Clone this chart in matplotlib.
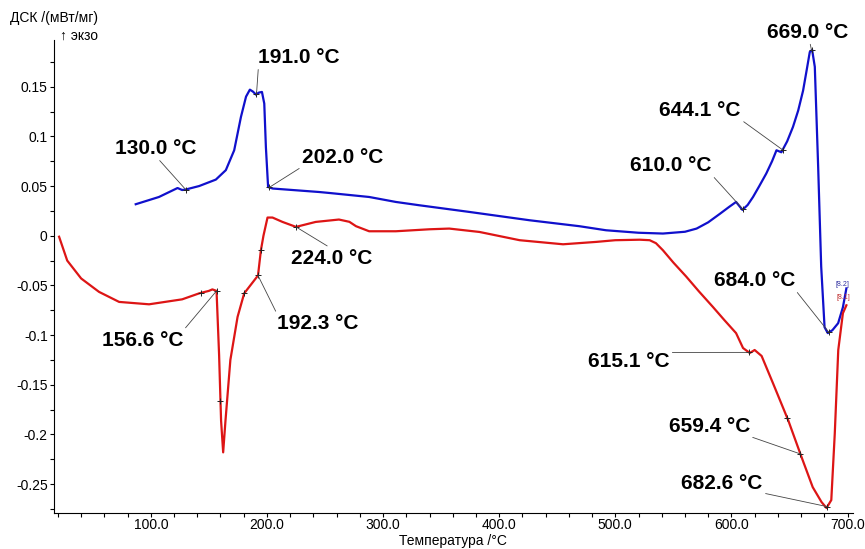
import numpy as np
import matplotlib
matplotlib.use("Agg")
import matplotlib.pyplot as plt
from matplotlib.ticker import MultipleLocator, FuncFormatter

plt.rcParams['font.family'] = ['Liberation Sans', 'DejaVu Sans']
plt.rcParams['axes.unicode_minus'] = False

BLUE = '#1010CC'
RED = '#DD1515'

# кривая ДСК (синяя)
blue_t = [87, 107, 123, 127, 130, 141.6, 156, 164.6, 171.8, 177.6, 182, 185.3, 188, 190.5, 193,
          195.7, 197.7, 199.1, 201, 205, 245, 254, 288, 311, 331, 374, 426, 469, 492, 520, 541,
          560, 570, 580, 590, 598, 604, 609.5, 614, 618.6, 624, 630, 635, 638.8, 643, 648, 653,
          657.5, 661.7, 665, 667.5, 669.5, 671.8, 674.7, 677.3, 680.2, 683, 687, 691.9, 696, 699]
blue_v = [0.0317, 0.039, 0.048, 0.046, 0.0465, 0.050, 0.0565, 0.066, 0.086, 0.1195, 0.14, 0.147,
          0.145, 0.142, 0.144, 0.1447, 0.133, 0.089, 0.049, 0.0475, 0.044, 0.043, 0.039, 0.034,
          0.0307, 0.024, 0.0156, 0.0096, 0.0055, 0.003, 0.0022, 0.004, 0.0072, 0.0135, 0.022,
          0.029, 0.034, 0.026, 0.031, 0.039, 0.05, 0.0626, 0.075, 0.086, 0.084, 0.095, 0.1095,
          0.126, 0.146, 0.168, 0.185, 0.187, 0.17, 0.069, -0.031, -0.092, -0.098, -0.095, -0.088,
          -0.072, -0.053]

# кривая ДСК (красная)
red_t = [21, 28, 40, 55.4, 72.7, 98.5, 127, 141.6, 150, 153, 156.6, 158.8, 160.5, 162.3, 164.3,
         168.5, 174.7, 180.4, 189, 192.3, 194.8, 197, 200.5, 204.8, 213.4, 225, 242, 262, 271,
         276.7, 288, 311, 340, 357, 383, 417.6, 455, 483.6, 500, 521, 529.6, 535, 541, 550, 561,
         572, 584, 594, 604, 610, 615.8, 620, 626, 636, 649, 660.3, 670, 677.6, 681.9, 686, 689,
         692, 696, 699]
red_v = [-0.001, -0.025, -0.043, -0.0565, -0.0666, -0.069, -0.064, -0.058, -0.0555, -0.054,
         -0.0555, -0.12, -0.186, -0.218, -0.186, -0.125, -0.0817, -0.058, -0.045, -0.040, -0.0146,
         0.0, 0.0183, 0.0183, 0.0139, 0.0089, 0.0139, 0.0163, 0.014, 0.0096, 0.0045, 0.0045,
         0.0065, 0.0072, 0.0038, -0.0045, -0.0086, -0.0062, -0.0045, -0.004, -0.0045, -0.0075,
         -0.0146, -0.027, -0.041, -0.056, -0.0716, -0.085, -0.098, -0.113, -0.118, -0.115, -0.121,
         -0.149, -0.186, -0.2225, -0.253, -0.268, -0.274, -0.266, -0.199, -0.115, -0.078, -0.07]

# отмеченные точки (температуры)
blue_marks = [130.0, 191.0, 202.0, 610.0, 644.1, 669.0, 684.0]
red_marks = [143.0, 156.6, 160.0, 180.4, 192.3, 194.8, 225.0, 615.1, 648.0, 659.4, 682.6]

# подписи: текст, температура точки, позиция текста, точка начала линии
blue_labels = [("130.0 °C", 130.0, (104.1, 0.088), (0.52, 0)),
               ("191.0 °C", 191.0, (227.8, 0.1796), (0, 0)),
               ("202.0 °C", 202.0, (265.2, 0.079), (0, 0)),
               ("610.0 °C", 610.0, (547.9, 0.0709), (1, 0)),
               ("644.1 °C", 644.1, (573.1, 0.1263), (1, 0)),
               ("669.0 °C", 669.0, (665.3, 0.205), (0.53, 0)),
               ("684.0 °C", 684.0, (619.8, -0.0448), (1, 0))]
red_labels = [("224.0 °C", 225.0, (255.8, -0.0226), (0.5, 1)),
              ("156.6 °C", 156.6, (92.8, -0.105), (1, 1)),
              ("192.3 °C", 192.3, (243.8, -0.0883), (0, 1)),
              ("615.1 °C", 615.1, (511.6, -0.127), (1, 1)),
              ("659.4 °C", 659.4, (580.9, -0.1924), (1, 0)),
              ("682.6 °C", 682.6, (592.0, -0.2493), (1, 0))]

fig = plt.figure(figsize=(8.65, 5.49), dpi=100)
ax = fig.add_axes([0.0624, 0.0656, 0.9236, 0.8616])

ax.plot(blue_t, blue_v, color=BLUE, lw=1.6)
ax.plot(red_t, red_v, color=RED, lw=1.6)

bm = np.interp(blue_marks, blue_t, blue_v)
rm = np.interp(red_marks, red_t, red_v)
ax.plot(blue_marks, bm, '+', color='#222222', ms=5, mew=0.7)
ax.plot(red_marks, rm, '+', color='#222222', ms=5, mew=0.7)


def put_labels(labels, ts, vs):
    for text, t, pos, rel in labels:
        y = np.interp(t, ts, vs)
        ax.annotate(text, xy=(t, y), xytext=pos, ha='center', va='center',
                    fontsize=15, fontweight='bold', annotation_clip=False,
                    arrowprops=dict(arrowstyle='-', color='#444444', lw=0.6,
                                    relpos=rel, shrinkA=0, shrinkB=0))


put_labels(blue_labels, blue_t, blue_v)
put_labels(red_labels, red_t, red_v)

ax.text(696, -0.049, "[8.2]", color='#3030A0', fontsize=5, ha='center', va='center')
ax.text(696, -0.062, "[8.1]", color='#C03030', fontsize=5, ha='center', va='center')

ax.set_xlim(16.6, 704.6)
ax.set_ylim(-0.279, 0.197)

ax.spines['top'].set_visible(False)
ax.spines['right'].set_visible(False)
ax.xaxis.set_major_locator(MultipleLocator(100))
ax.xaxis.set_minor_locator(MultipleLocator(20))
ax.yaxis.set_major_locator(MultipleLocator(0.05))
ax.yaxis.set_minor_locator(MultipleLocator(0.025))
ax.xaxis.set_major_formatter(FuncFormatter(lambda v, p: f"{v:.1f}"))
ax.yaxis.set_major_formatter(FuncFormatter(lambda v, p: f"{round(v, 3):g}" if abs(v) > 1e-9 else "0"))
ax.tick_params(axis='both', which='major', labelsize=10, length=3, width=0.8, direction='out')
ax.tick_params(axis='both', which='minor', length=3, width=0.8, direction='out')
ax.tick_params(axis='x', which='major', pad=0.5)
ax.tick_params(axis='y', which='major', pad=1.5)

fig.text(453 / 865, 1 - 541 / 549, "Температура /°C", fontsize=10, ha='center', va='center')
fig.text(10 / 865, 1 - 18 / 549, "ДСК /(мВт/мг)", fontsize=10, ha='left', va='center')
fig.text(60 / 865, 1 - 36 / 549, "↑ экзо", fontsize=10, ha='left', va='center')

fig.savefig("out.png", dpi=100)
